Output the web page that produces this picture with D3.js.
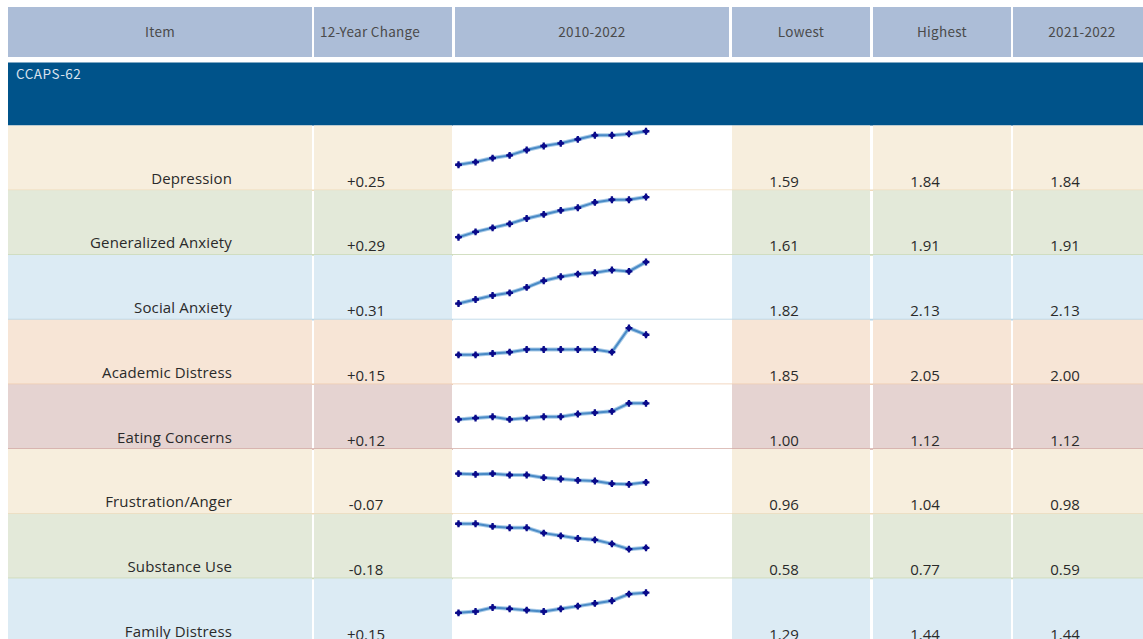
<!DOCTYPE html>
<html>
<head>
<meta charset="utf-8">
<script src="https://cdn.jsdelivr.net/npm/d3@7"></script>
<style>
  body { margin: 0; background: #fff; }
  svg { display: block; }
</style>
</head>
<body>
<div id="chart"></div>
<script>
const headers = ['Item', '12-Year Change', '2010-2022', 'Lowest', 'Highest', '2021-2022'];
const groupName = 'CCAPS-62';

const items = [
  'Depression', 'Generalized Anxiety', 'Social Anxiety', 'Academic Distress',
  'Eating Concerns', 'Frustration/Anger', 'Substance Use', 'Family Distress'
];
const change = [0.25, 0.29, 0.31, 0.15, 0.12, -0.07, -0.18, 0.15];
const lowest = [1.59, 1.61, 1.82, 1.85, 1.00, 0.96, 0.58, 1.29];
const highest = [1.84, 1.91, 2.13, 2.05, 1.12, 1.04, 0.77, 1.44];
const latest = [1.84, 1.91, 2.13, 2.00, 1.12, 0.98, 0.59, 1.44];

// yearly means, 2010-11 .. 2021-22
const trend = [
  [1.59, 1.61, 1.64, 1.66, 1.70, 1.73, 1.75, 1.78, 1.81, 1.81, 1.82, 1.84],
  [1.61, 1.65, 1.68, 1.71, 1.75, 1.78, 1.81, 1.83, 1.87, 1.89, 1.89, 1.91],
  [1.82, 1.85, 1.88, 1.90, 1.94, 1.99, 2.02, 2.04, 2.05, 2.07, 2.06, 2.13],
  [1.85, 1.85, 1.86, 1.87, 1.89, 1.89, 1.89, 1.89, 1.89, 1.87, 2.05, 2.00],
  [1.00, 1.01, 1.02, 1.00, 1.01, 1.02, 1.02, 1.04, 1.05, 1.06, 1.12, 1.12],
  [1.04, 1.035, 1.04, 1.03, 1.03, 1.01, 1.00, 0.99, 0.985, 0.965, 0.96, 0.975],
  [0.77, 0.77, 0.75, 0.74, 0.74, 0.70, 0.68, 0.66, 0.65, 0.62, 0.58, 0.59],
  [1.29, 1.30, 1.33, 1.32, 1.31, 1.30, 1.32, 1.34, 1.36, 1.38, 1.43, 1.44]
];
// top of each sparkline's value axis
const sparkMax = [1.883, 1.961, 2.183, 2.113, 1.262, 1.224, 0.845, 1.547];
const sparkSpan = 0.483;

const rowFill = ['#f7eedd', '#e3e9d9', '#dcebf4', '#f7e5d6', '#e5d3d1'];
const rowLine = ['#f0dbbb', '#cfdcbc', '#b9d6e7', '#efcdb2', '#d3aba5'];

const width = 1143, height = 639;
const cols = [
  { x: 8, w: 304 },
  { x: 314, w: 138 },
  { x: 455, w: 274 },
  { x: 732, w: 138 },
  { x: 873, w: 138 },
  { x: 1013, w: 138 }
];
const headTop = 7, headH = 50;
const groupTop = 62.5, groupH = 63;
const rowTop = 125.5, rowH = 64.7;
const bodyFont = '"Open Sans", sans-serif';
const headFont = '"Noto Sans CJK KR", sans-serif';

const svg = d3.select('#chart').append('svg')
  .attr('width', width)
  .attr('height', height);

// header
const head = svg.append('g');
head.selectAll('rect')
  .data(cols).enter().append('rect')
    .attr('x', d => d.x)
    .attr('y', headTop)
    .attr('width', d => d.w)
    .attr('height', headH)
    .attr('fill', '#acbdd7');
head.selectAll('text')
  .data(headers).enter().append('text')
    .attr('x', (d, i) => i === 1 ? cols[i].x + 6 : cols[i].x + cols[i].w / 2)
    .attr('y', headTop + headH / 2 + 5)
    .attr('text-anchor', (d, i) => i === 1 ? 'start' : 'middle')
    .attr('font-family', headFont)
    .attr('font-size', 13.5)
    .attr('letter-spacing', 0.3)
    .attr('fill', '#4a4a4a')
    .text(d => d);

// group band
svg.append('rect')
  .attr('x', 8)
  .attr('y', groupTop)
  .attr('width', width - 8)
  .attr('height', groupH)
  .attr('fill', '#00538a');
svg.append('text')
  .attr('x', 16)
  .attr('y', groupTop + 16)
  .attr('font-family', headFont)
  .attr('font-size', 13.5)
  .attr('letter-spacing', 0.5)
  .attr('fill', '#d9e2ee')
  .text(groupName);

const fmtChange = v => (v > 0 ? '+' : '') + v.toFixed(2);
const fmt = v => v.toFixed(2);

const x = d3.scalePoint()
  .domain(d3.range(12))
  .range([cols[2].x + 3.5, cols[2].x + 191]);

items.forEach((name, i) => {
  const top = rowTop + i * rowH;
  const g = svg.append('g');
  const fill = rowFill[i % rowFill.length];

  g.selectAll('rect.cell')
    .data(cols).enter().append('rect')
      .attr('class', 'cell')
      .attr('x', (d, j) => j === 2 ? d.x - 2 : d.x)
      .attr('y', top)
      .attr('width', (d, j) => j === 2 ? d.w + 5 : d.w)
      .attr('height', rowH)
      .attr('fill', (d, j) => j === 2 ? '#fff' : fill);

  g.append('line')
    .attr('x1', 8)
    .attr('x2', width)
    .attr('y1', top + rowH)
    .attr('y2', top + rowH)
    .attr('stroke', rowLine[i % rowLine.length])
    .attr('stroke-width', 1.6);

  g.append('text')
    .attr('x', cols[0].x + 224)
    .attr('y', top + rowH - 6.5)
    .attr('text-anchor', 'end')
    .attr('font-family', bodyFont)
    .attr('font-size', 15)
    .attr('letter-spacing', 0.15)
    .attr('fill', '#2a2a2a')
    .text(name);

  const nums = [
    [1, fmtChange(change[i])],
    [3, fmt(lowest[i])],
    [4, fmt(highest[i])],
    [5, fmt(latest[i])]
  ];
  g.selectAll('text.num')
    .data(nums).enter().append('text')
      .attr('class', 'num')
      .attr('x', d => cols[d[0]].x + cols[d[0]].w / 2 - 17)
      .attr('y', top + rowH - 3.5)
      .attr('text-anchor', 'middle')
      .attr('font-family', bodyFont)
      .attr('font-size', 15)
      .attr('fill', '#2a2a2a')
      .text(d => d[1]);

  // sparkline
  const y = d3.scaleLinear()
    .domain([sparkMax[i] - sparkSpan, sparkMax[i]])
    .range([top + rowH, top]);
  const line = d3.line()
    .x((d, k) => x(k))
    .y(d => y(d));
  g.append('path')
    .datum(trend[i])
    .attr('d', line)
    .attr('fill', 'none')
    .attr('stroke', '#a9cbe8')
    .attr('stroke-width', 4);
  g.append('path')
    .datum(trend[i])
    .attr('d', line)
    .attr('fill', 'none')
    .attr('stroke', '#4a8bc6')
    .attr('stroke-width', 2);
  g.selectAll('path.mark')
    .data(trend[i]).enter().append('path')
      .attr('class', 'mark')
      .attr('transform', (d, k) => `translate(${x(k)},${y(d)})`)
      .attr('d', d3.symbol(d3.symbolCross, 26))
      .attr('fill', '#0a0a8a');
  g.selectAll('circle')
    .data(trend[i]).enter().append('circle')
      .attr('cx', (d, k) => x(k))
      .attr('cy', d => y(d))
      .attr('r', 2.3)
      .attr('fill', '#0a0a8a');
});
</script>
</body>
</html>
